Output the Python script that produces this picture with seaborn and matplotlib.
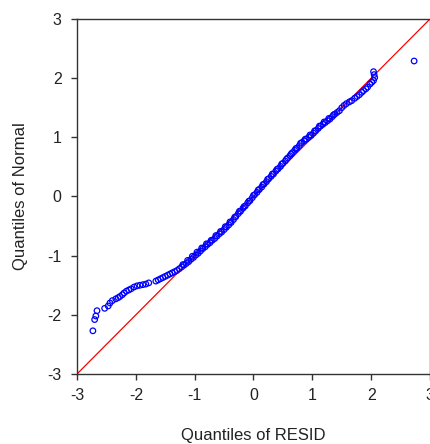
import matplotlib
matplotlib.use("Agg")
import matplotlib.pyplot as plt
import seaborn as sns
import pandas as pd

# Quantiles of RESID (x) vs Quantiles of Normal (y)
resid_q = [
    -2.73, -2.70, -2.68, -2.66, -2.53, -2.47, -2.44, -2.40, -2.34, -2.30,
    -2.27, -2.23, -2.20, -2.16, -2.12, -2.08, -2.03, -1.98, -1.93, -1.88,
    -1.83, -1.78, -1.66, -1.62, -1.58, -1.54, -1.50, -1.46, -1.42, -1.38,
    -1.34, -1.30, -1.26, -1.22, -1.18, -1.14, -1.10, -1.06, -1.02, -0.98,
    -0.94, -0.90, -0.86, -0.82, -0.78, -0.74, -0.70, -0.66, -0.62, -0.58,
    -0.54, -0.50, -0.46, -0.42, -0.38, -0.34, -0.30, -0.26, -0.22, -0.18,
    -0.14, -0.10, -0.06, -0.02, 0.02, 0.06, 0.10, 0.14, 0.18, 0.22,
    0.26, 0.30, 0.34, 0.38, 0.42, 0.46, 0.50, 0.54, 0.58, 0.62,
    0.66, 0.70, 0.74, 0.78, 0.82, 0.86, 0.90, 0.94, 0.98, 1.02,
    1.06, 1.10, 1.14, 1.18, 1.22, 1.26, 1.30, 1.34, 1.38, 1.42,
    1.46, 1.50, 1.54, 1.58, 1.63, 1.67, 1.72, 1.76, 1.80, 1.84,
    1.87, 1.91, 1.94, 1.98, 2.01, 2.04, 2.06, 2.05, 2.04, 2.73,
]
normal_q = [
    -2.27, -2.08, -2.02, -1.93, -1.89, -1.85, -1.80, -1.76, -1.73, -1.71,
    -1.69, -1.66, -1.63, -1.60, -1.58, -1.56, -1.53, -1.51, -1.50, -1.49,
    -1.48, -1.46, -1.43, -1.41, -1.39, -1.37, -1.35, -1.33, -1.31, -1.29,
    -1.27, -1.25, -1.22, -1.19, -1.16, -1.13, -1.10, -1.06, -1.03, -0.99,
    -0.96, -0.92, -0.88, -0.85, -0.81, -0.78, -0.74, -0.71, -0.67, -0.63,
    -0.60, -0.56, -0.52, -0.48, -0.44, -0.39, -0.34, -0.29, -0.25, -0.20,
    -0.16, -0.11, -0.07, -0.02, 0.03, 0.07, 0.12, 0.16, 0.21, 0.25,
    0.30, 0.34, 0.38, 0.43, 0.47, 0.51, 0.56, 0.60, 0.65, 0.69,
    0.74, 0.78, 0.82, 0.86, 0.91, 0.94, 0.97, 1.00, 1.03, 1.07,
    1.11, 1.15, 1.19, 1.22, 1.25, 1.28, 1.31, 1.35, 1.39, 1.42,
    1.45, 1.50, 1.54, 1.57, 1.60, 1.62, 1.66, 1.69, 1.72, 1.76,
    1.79, 1.82, 1.85, 1.90, 1.93, 1.96, 2.01, 2.06, 2.11, 2.29,
]
# further points in the dense central band (slightly off the main run)
band_resid_q = [
    -1.20, -1.12, -1.04, -0.96, -0.88, -0.80, -0.72, -0.64, -0.56, -0.48,
    -0.40, -0.32, -0.24, -0.16, -0.08, 0.00, 0.08, 0.16, 0.24, 0.32,
    0.40, 0.48, 0.56, 0.64, 0.72, 0.80, 0.88, 0.96, 1.04, 1.12,
    1.20, 1.28, 1.36,
]
band_normal_q = [
    -1.15, -1.08, -1.01, -0.94, -0.87, -0.80, -0.74, -0.66, -0.59, -0.51,
    -0.43, -0.35, -0.25, -0.17, -0.08, 0.02, 0.11, 0.20, 0.29, 0.38,
    0.46, 0.55, 0.63, 0.72, 0.81, 0.90, 0.97, 1.04, 1.11, 1.19,
    1.26, 1.32, 1.38,
]
ref_x = [-3, 3]
ref_y = [-3, 3]
ticks = [-3, -2, -1, 0, 1, 2, 3]

sns.set_style("white")
plt.rcParams["font.family"] = ["Liberation Sans", "DejaVu Sans"]

fig = plt.figure(figsize=(4.31, 4.44), dpi=100)
ax = fig.add_axes([77 / 431, (444 - 374) / 444, (430 - 77) / 431, (374 - 19) / 444])

df = pd.DataFrame({"x": resid_q + band_resid_q, "y": normal_q + band_normal_q})
sns.lineplot(x=ref_x, y=ref_y, ax=ax, color="#ff0000", linewidth=0.9, zorder=1)
sns.scatterplot(data=df, x="x", y="y", ax=ax, marker="o", s=16,
                facecolors="none", edgecolor="#0000ff", linewidth=0.9, zorder=2)

ax.set_xlim(-3, 3)
ax.set_ylim(-3, 3)
ax.set_xticks(ticks)
ax.set_yticks(ticks)
ax.set_xticklabels([str(t) for t in ticks])
ax.set_yticklabels([str(t) for t in ticks])
ax.tick_params(axis="both", direction="out", length=4, width=1, color="#333333",
               labelsize=11.5, labelcolor="#222222", bottom=True, left=True)
ax.tick_params(axis="x", pad=6)
ax.tick_params(axis="y", pad=7)
for sp in ax.spines.values():
    sp.set_color("#333333")
    sp.set_linewidth(1)
ax.set_xlabel("Quantiles of RESID", fontsize=12, color="#222222", labelpad=18)
ax.set_ylabel("Quantiles of Normal", fontsize=12, color="#222222", labelpad=14)

fig.savefig("out.png", dpi=100)
